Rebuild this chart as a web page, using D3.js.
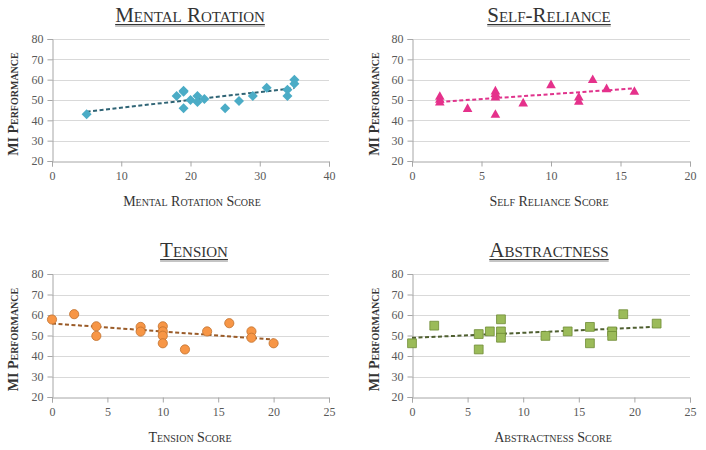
<!DOCTYPE html>
<html>
<head>
<meta charset="utf-8">
<script src="https://cdn.jsdelivr.net/npm/d3@7"></script>
<style>
  body { margin: 0; background: #fff; }
  svg { display: block; }
  text { font-family: "Liberation Serif", "DejaVu Serif", serif; }
  .sc { font-variant: small-caps; fill: #333; }
</style>
</head>
<body>
<svg id="chart" width="706" height="450"></svg>
<script>
// DATA
var yLabel = "MI Performance";
var yTicks = [20, 30, 40, 50, 60, 70, 80];

var mentalTitle = "Mental Rotation";
var mentalXLabel = "Mental Rotation Score";
var mentalX = [5, 18, 19, 19, 19, 20, 21, 21, 22, 25, 27, 29, 31, 34, 34, 35, 35];
var mentalY = [43, 52, 54.5, 54, 46, 50, 52, 49, 50.5, 46, 49.5, 52, 56, 55, 52, 60, 58];
var mentalXTicks = [0, 10, 20, 30, 40];

var selfTitle = "Self-Reliance";
var selfXLabel = "Self Reliance Score";
var selfX = [2, 2, 2, 4, 6, 6, 6, 6, 8, 10, 12, 12, 13, 14, 16];
var selfY = [52, 50.5, 49.2, 46, 54.6, 53.3, 51.6, 43.1, 48.7, 57.7, 51.6, 49.5, 60.2, 55.7, 54.4];
var selfXTicks = [0, 5, 10, 15, 20];

var tensionTitle = "Tension";
var tensionXLabel = "Tension Score";
var tensionX = [0, 2, 4, 4, 8, 8, 10, 10, 10, 10, 12, 14, 16, 18, 18, 20];
var tensionY = [57.8, 60.4, 54.5, 49.8, 54.2, 51.9, 54.5, 52, 49.9, 46.2, 43.2, 52, 56, 52, 48.9, 46.2];
var tensionXTicks = [0, 5, 10, 15, 20, 25];

var abstractTitle = "Abstractness";
var abstractXLabel = "Abstractness Score";
var abstractX = [0, 2, 6, 6, 7, 8, 8, 8, 12, 14, 16, 16, 18, 18, 19, 22];
var abstractY = [46.2, 54.8, 50.7, 43.2, 52, 57.9, 52, 48.9, 49.8, 52, 54.2, 46.2, 52, 49.8, 60.4, 55.8];
var abstractXTicks = [0, 5, 10, 15, 20, 25];

// PANELS
var svg = d3.select("#chart");

var panels = [
    {title: mentalTitle, xLabel: mentalXLabel, xs: mentalX, ys: mentalY, xTicks: mentalXTicks,
     left: 52, right: 329, top: 39, bottom: 161, titleX: 190, xLabelX: 192, yLabelX: 13,
     shape: "diamond", fill: "#4bacc6", stroke: "none", trend: "#2f6475"},
    {title: selfTitle, xLabel: selfXLabel, xs: selfX, ys: selfY, xTicks: selfXTicks,
     left: 412, right: 690, top: 39, bottom: 161, titleX: 549, xLabelX: 549, yLabelX: 374,
     shape: "triangle", fill: "#e5318b", stroke: "none", trend: "#e0338c"},
    {title: tensionTitle, xLabel: tensionXLabel, xs: tensionX, ys: tensionY, xTicks: tensionXTicks,
     left: 52, right: 329, top: 274, bottom: 397, titleX: 194, xLabelX: 190, yLabelX: 13,
     shape: "circle", fill: "#f79646", stroke: "#c0712f", trend: "#9a5b28"},
    {title: abstractTitle, xLabel: abstractXLabel, xs: abstractX, ys: abstractY, xTicks: abstractXTicks,
     left: 412, right: 690, top: 274, bottom: 397, titleX: 549, xLabelX: 553, yLabelX: 374,
     shape: "square", fill: "#9bbb59", stroke: "#6e8c35", trend: "#4f5f30"}
];

function markerPath(shape) {
    if (shape == "diamond") return "M0,-5L5,0L0,5L-5,0Z";
    if (shape == "triangle") return "M0,-4.8L4.8,3.8L-4.8,3.8Z";
    if (shape == "square") return "M-4.4,-4.4H4.4V4.4H-4.4Z";
    return null;
}

// least squares line, like the Excel trendline
function linearFit(xs, ys) {
    var mx = d3.mean(xs), my = d3.mean(ys);
    var sxy = d3.sum(xs, function(x, i) { return (x - mx) * (ys[i] - my); });
    var sxx = d3.sum(xs, function(x) { return (x - mx) * (x - mx); });
    var b = sxy / sxx;
    return function(x) { return my + b * (x - mx); };
}

panels.forEach(function(p) {
    var x = d3.scaleLinear().domain([p.xTicks[0], p.xTicks[p.xTicks.length - 1]]).range([p.left, p.right]);
    var y = d3.scaleLinear().domain([20, 80]).range([p.bottom, p.top]);
    var g = svg.append("g");

    // gridlines
    g.selectAll(".grid").data(yTicks.slice(1)).enter().append("line")
        .attr("x1", p.left).attr("x2", p.right)
        .attr("y1", function(d) { return Math.round(y(d)) + 0.5; })
        .attr("y2", function(d) { return Math.round(y(d)) + 0.5; })
        .attr("stroke", "#d9d9d9").attr("stroke-width", 1);

    // axes
    var yAxis = g.append("g").attr("transform", "translate(" + (Math.round(p.left) + 0.5) + ",0)")
        .call(d3.axisLeft(y).tickValues(yTicks).tickSize(5).tickPadding(4));
    var xAxis = g.append("g").attr("transform", "translate(0," + (Math.round(p.bottom) + 0.5) + ")")
        .call(d3.axisBottom(x).tickValues(p.xTicks).tickSize(5).tickPadding(5));
    [yAxis, xAxis].forEach(function(a) {
        a.attr("font-family", "Liberation Serif").attr("font-size", 12);
        a.select(".domain").attr("stroke", "#a6a6a6");
        a.selectAll(".tick line").attr("stroke", "#a6a6a6");
        a.selectAll(".tick text").attr("fill", "#595959");
    });

    // trendline
    var fit = linearFit(p.xs, p.ys);
    var x0 = d3.min(p.xs), x1 = d3.max(p.xs);
    g.append("line")
        .attr("x1", x(x0)).attr("y1", y(fit(x0)))
        .attr("x2", x(x1)).attr("y2", y(fit(x1)))
        .attr("stroke", p.trend).attr("stroke-width", 2)
        .attr("stroke-dasharray", "4,2.5");

    // markers
    var pts = p.xs.map(function(v, i) { return [v, p.ys[i]]; });
    if (p.shape == "circle") {
        g.selectAll(".pt").data(pts).enter().append("circle")
            .attr("cx", function(d) { return x(d[0]); })
            .attr("cy", function(d) { return y(d[1]); })
            .attr("r", 4.6)
            .attr("fill", p.fill).attr("stroke", p.stroke).attr("stroke-width", 0.8);
    } else {
        g.selectAll(".pt").data(pts).enter().append("path")
            .attr("d", markerPath(p.shape))
            .attr("transform", function(d) { return "translate(" + x(d[0]) + "," + y(d[1]) + ")"; })
            .attr("fill", p.fill).attr("stroke", p.stroke).attr("stroke-width", 0.8);
    }

    // title with shadowed underline
    var t = g.append("text").attr("class", "sc")
        .attr("x", p.titleX).attr("y", p.top - 17)
        .attr("text-anchor", "middle")
        .style("font-size", "21px")
        .text(p.title);
    var w = t.node().getComputedTextLength();
    g.append("line").attr("x1", p.titleX - w / 2).attr("x2", p.titleX + w / 2)
        .attr("y1", p.top - 13).attr("y2", p.top - 13)
        .attr("stroke", "#c4c4c4").attr("stroke-width", 2);
    g.append("line").attr("x1", p.titleX - w / 2).attr("x2", p.titleX + w / 2)
        .attr("y1", p.top - 14.5).attr("y2", p.top - 14.5)
        .attr("stroke", "#333").attr("stroke-width", 1);

    // x label
    g.append("text").attr("class", "sc")
        .attr("x", p.xLabelX).attr("y", p.bottom + 45)
        .attr("text-anchor", "middle")
        .style("font-size", "14px")
        .text(p.xLabel);

    // y label
    g.append("text").attr("class", "sc")
        .attr("transform", "translate(" + (p.yLabelX + 5) + "," + ((p.top + p.bottom) / 2 + 4) + ") rotate(-90)")
        .attr("text-anchor", "middle")
        .style("font-size", "14px").style("font-weight", "bold")
        .text(yLabel);
});
</script>
</body>
</html>
